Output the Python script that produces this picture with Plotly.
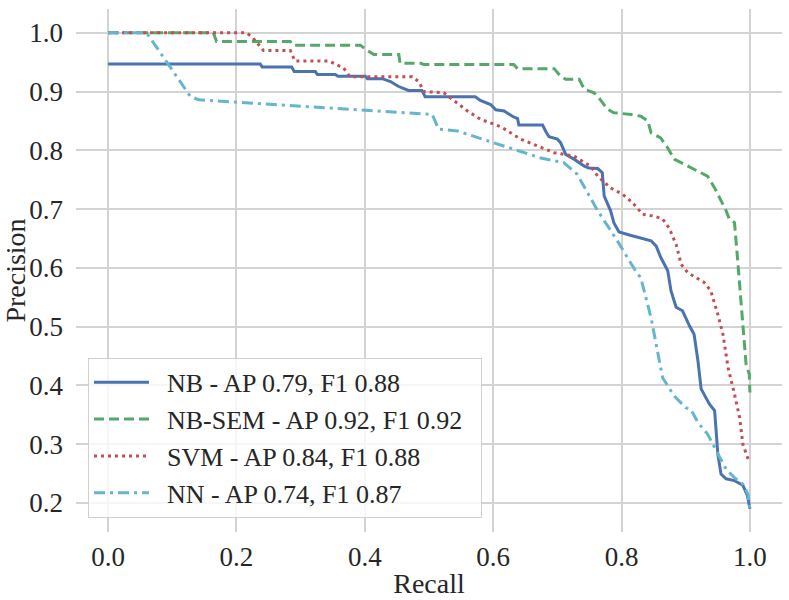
import plotly.graph_objects as go

# NB (solid blue)
nb_recall = [0.0, 0.237, 0.240, 0.286, 0.290, 0.323, 0.326, 0.354, 0.358, 0.401, 0.404, 0.427, 0.440,
             0.452, 0.468, 0.489, 0.494, 0.572, 0.580, 0.596, 0.604, 0.617, 0.630, 0.638, 0.640,
             0.677, 0.682, 0.687, 0.700, 0.705, 0.713, 0.726, 0.742, 0.749, 0.763, 0.770, 0.773,
             0.783, 0.788, 0.796, 0.815, 0.830, 0.846, 0.854, 0.861, 0.872, 0.877, 0.885, 0.895,
             0.906, 0.913, 0.919, 0.924, 0.937, 0.945, 0.947, 0.950, 0.955, 0.963, 0.976, 0.989,
             0.996, 1.0]
nb_precision = [0.947, 0.947, 0.942, 0.942, 0.934, 0.934, 0.929, 0.929, 0.926, 0.926, 0.922, 0.922, 0.917,
                0.909, 0.902, 0.902, 0.891, 0.891, 0.885, 0.878, 0.869, 0.867, 0.858, 0.854, 0.843,
                0.843, 0.832, 0.823, 0.819, 0.813, 0.793, 0.785, 0.773, 0.770, 0.769, 0.762, 0.722,
                0.697, 0.677, 0.661, 0.655, 0.650, 0.646, 0.637, 0.618, 0.595, 0.561, 0.533, 0.527,
                0.501, 0.487, 0.442, 0.394, 0.368, 0.357, 0.328, 0.283, 0.249, 0.241, 0.238, 0.230,
                0.213, 0.190]

# NB-SEM (dashed green)
sem_recall = [0.0, 0.164, 0.169, 0.284, 0.288, 0.393, 0.401, 0.414, 0.453, 0.455, 0.487, 0.492,
              0.632, 0.638, 0.695, 0.705, 0.713, 0.734, 0.742, 0.757, 0.765, 0.778, 0.788, 0.815,
              0.830, 0.841, 0.846, 0.861, 0.872, 0.882, 0.898, 0.919, 0.934, 0.945, 0.955, 0.963,
              0.968, 0.976, 0.981, 0.986, 0.991, 0.994, 0.999, 1.0]
sem_precision = [1.0, 1.0, 0.985, 0.985, 0.979, 0.979, 0.972, 0.963, 0.963, 0.948, 0.948, 0.946,
                 0.946, 0.939, 0.939, 0.926, 0.921, 0.921, 0.904, 0.898, 0.889, 0.870, 0.864, 0.861,
                 0.858, 0.850, 0.830, 0.821, 0.804, 0.785, 0.776, 0.765, 0.756, 0.736, 0.714, 0.697,
                 0.683, 0.677, 0.612, 0.544, 0.476, 0.436, 0.419, 0.388]

# SVM (dotted red)
svm_recall = [0.0, 0.216, 0.226, 0.234, 0.242, 0.284, 0.291, 0.344, 0.367, 0.377, 0.474, 0.484,
              0.492, 0.523, 0.544, 0.560, 0.580, 0.596, 0.612, 0.643, 0.671, 0.695, 0.726, 0.752,
              0.763, 0.783, 0.802, 0.817, 0.833, 0.851, 0.864, 0.874, 0.885, 0.893, 0.903, 0.929,
              0.939, 0.950, 0.958, 0.966, 0.976, 0.984, 0.989, 0.998]
svm_precision = [1.0, 1.0, 0.991, 0.980, 0.970, 0.970, 0.952, 0.952, 0.940, 0.925, 0.925, 0.917,
                 0.900, 0.898, 0.881, 0.867, 0.853, 0.847, 0.840, 0.819, 0.807, 0.796, 0.790, 0.773,
                 0.756, 0.736, 0.725, 0.711, 0.691, 0.688, 0.683, 0.668, 0.640, 0.606, 0.592, 0.575,
                 0.561, 0.521, 0.487, 0.430, 0.385, 0.345, 0.300, 0.272]

# NN (dash-dot cyan)
nn_recall = [0.0, 0.060, 0.128, 0.141, 0.505, 0.515, 0.544, 0.601, 0.674, 0.710, 0.731, 0.763,
             0.794, 0.820, 0.830, 0.846, 0.856, 0.864, 0.882, 0.900, 0.908, 0.919, 0.934, 0.950,
             0.963, 0.976, 0.989, 0.997, 1.0]
nn_precision = [1.0, 1.0, 0.892, 0.886, 0.861, 0.836, 0.833, 0.813, 0.787, 0.779, 0.759, 0.697,
                0.645, 0.598, 0.583, 0.515, 0.459, 0.413, 0.382, 0.362, 0.359, 0.337, 0.317, 0.283,
                0.257, 0.243, 0.232, 0.215, 0.190]

labels = ["NB - AP 0.79, F1 0.88", "NB-SEM - AP 0.92, F1 0.92",
          "SVM - AP 0.84, F1 0.88", "NN - AP 0.74, F1 0.87"]
colors = ["#4C72B0", "#55A868", "#C44E52", "#64B5CD"]
dashes = ["solid", "10px,5px", "3px,4px", "11px,5px,3px,5px"]
series = [(nb_recall, nb_precision), (sem_recall, sem_precision),
          (svm_recall, svm_precision), (nn_recall, nn_precision)]

pad = "\u00a0\u00a0"
fig = go.Figure()
for (xr, yp), lab, c, d in zip(series, labels, colors, dashes):
    fig.add_trace(go.Scatter(x=xr, y=yp, mode="lines", name=pad + lab + pad,
                             line=dict(color=c, width=3, dash=d)))

font_family = "Liberation Serif"
fig.update_layout(
    width=789, height=600,
    margin=dict(l=76, r=7, t=9, b=68),
    paper_bgcolor="white", plot_bgcolor="white",
    font=dict(family=font_family, size=27, color="#262626"),
    legend=dict(x=0.017, y=0.027, xanchor="left", yanchor="bottom",
                bgcolor="rgba(255,255,255,0.8)", bordercolor="#d0d0d0", borderwidth=1,
                font=dict(size=26, family=font_family, color="#262626"),
                itemwidth=55),
    showlegend=True,
)
fig.update_xaxes(range=[-0.05, 1.05], tickvals=[0.0, 0.2, 0.4, 0.6, 0.8, 1.0],
                 ticktext=["0.0", "0.2", "0.4", "0.6", "0.8", "1.0"],
                 showgrid=True, gridcolor="#d3d3d3", gridwidth=1.5, zeroline=False,
                 showline=False, ticks="", ticklabelstandoff=6, automargin=False,
                 title=dict(text="Recall", font=dict(size=28, family=font_family), standoff=2))
fig.update_yaxes(range=[0.1505, 1.0405], tickvals=[0.2, 0.3, 0.4, 0.5, 0.6, 0.7, 0.8, 0.9, 1.0],
                 ticktext=["0.2", "0.3", "0.4", "0.5", "0.6", "0.7", "0.8", "0.9", "1.0"],
                 showgrid=True, gridcolor="#d3d3d3", gridwidth=1.5, zeroline=False,
                 showline=False, ticks="", ticklabelstandoff=12, automargin=False,
                 title=dict(text="Precision", font=dict(size=28, family=font_family), standoff=7))

fig.write_html("out.html", config={"displayModeBar": False},
               post_script="document.body.style.margin='0';document.body.style.padding='0';")
